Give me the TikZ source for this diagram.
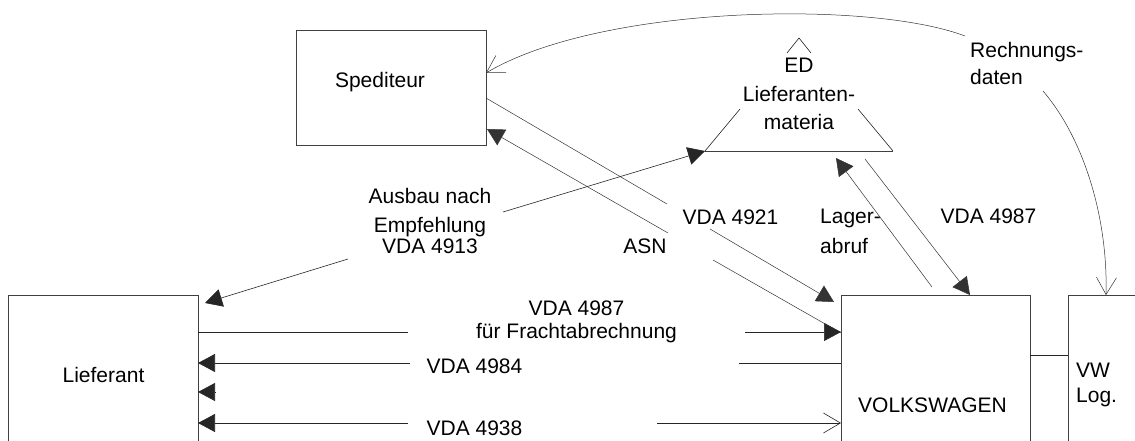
\documentclass[tikz,border=0pt]{standalone}
\usepackage{fontspec}
\setmainfont{Liberation Sans}
\usetikzlibrary{arrows.meta}
\begin{document}
\begin{tikzpicture}[x=1pt,y=-1pt,
  box/.style={draw=black!75, line width=0.8pt, inner sep=0pt},
  txt/.style={inner sep=0pt, font=\fontsize{21}{24}\selectfont},
  conn/.style={line width=0.6pt, draw=black!85},
  thin/.style={line width=0.5pt, draw=black!80},
  fa/.style={-{Triangle[length=17pt,width=18pt]}},
  oa/.style={-{Straight Barb[length=17pt,width=20pt]}},
]
\useasboundingbox (0,0) rectangle (1135,441);
\clip (0,0) rectangle (1135,441);

% boxes
\node[box, minimum width=190pt, minimum height=115pt] (sped) at (391,87.5) {};
\node[txt, anchor=base] (tsped) at (380,88) {Spediteur};
\node[box, minimum width=190pt, minimum height=175pt] (lief) at (103,382.5) {};
\node[txt, anchor=base] (tlief) at (103.5,382) {Lieferant};
\node[box, minimum width=189pt, minimum height=175pt] (vw) at (935.5,382.5) {};
\node[txt, anchor=base] (tvw) at (932.5,412) {VOLKSWAGEN};
\node[box, minimum width=92pt, minimum height=175pt] (vwlog) at (1114,382.5) {};
\node[txt, anchor=base west, align=left, font=\fontsize{21}{25}\selectfont] (tvwlog) at (1076,402) {VW\\Log.};

% triangle (ED Lieferantenmateria)
\coordinate (tl) at (705,151);
\coordinate (tr) at (893,151);
\coordinate (ta) at (799,38);
\coordinate (tla) at (740,109);
\coordinate (tra) at (858,109);
\coordinate (tcl) at (787,53);
\coordinate (tcr) at (811,53);
\draw[box] (tl) -- (tr);
\draw[conn] (tl) -- (tla);
\draw[conn] (tr) -- (tra);
\draw[conn] (tcl) -- (ta) -- (tcr);
\node[txt, anchor=base, align=center, font=\fontsize{21}{28.5}\selectfont] (tmat) at (799,130) {ED\\Lieferanten-\\materia};

% labels
\node[txt, anchor=base west, align=left, font=\fontsize{21}{27}\selectfont] (trech) at (970,85) {Rechnungs-\\daten};
\node[txt, anchor=base, align=center] (taus) at (430,253) {Ausbau nach\\[5pt]Empfehlung\\[-3pt]VDA 4913};
\node[txt, anchor=base] (t4921) at (730.5,224) {VDA 4921};
\node[txt, anchor=base] (tasn) at (645,253) {ASN};
\node[txt, anchor=base west, align=left, font=\fontsize{21}{30}\selectfont] (tlager) at (820,253) {Lager-\\abruf};
\node[txt, anchor=base] (t4987b) at (988.5,223) {VDA 4987};
\node[txt, anchor=base, align=center, font=\fontsize{21}{23}\selectfont] (t4987) at (576.5,338) {VDA 4987\\für Frachtabrechnung};
\node[txt, anchor=base] (t4984) at (474.5,373) {VDA 4984};
\node[txt, anchor=base] (t4938) at (474.5,435) {VDA 4938};

% Spediteur -> VW (VDA 4921)
\coordinate (s1) at (486,98);
\coordinate (s1a) at (667,204);
\coordinate (s1b) at (710,229);
\coordinate (v1) at (834,302);
\draw[thin] (s1) -- (s1a);
\draw[thin,fa] (s1b) -- (v1);

% VW -> Spediteur (ASN)
\coordinate (s2) at (487,129);
\coordinate (s2a) at (668,233);
\coordinate (s2b) at (713,260);
\coordinate (v2) at (841,333);
\draw[thin,fa] (s2a) -- (s2);
\draw[thin] (s2b) -- (v2);

% horizontal connectors
\coordinate (h1) at (198,332);
\coordinate (h1a) at (408,332);
\coordinate (h1b) at (745,332);
\coordinate (h1v) at (841,332);
\draw[conn] (h1) -- (h1a);
\draw[conn,fa] (h1b) -- (h1v);

\coordinate (h2) at (198,363);
\coordinate (h2a) at (410,363);
\coordinate (h2b) at (739,363);
\coordinate (h2v) at (841,363);
\draw[conn,fa] (h2a) -- (h2);
\draw[conn] (h2b) -- (h2v);

\coordinate (h3) at (198,392);
\coordinate (h3a) at (216,392);
\draw[conn,fa] (h3a) -- (h3);

\coordinate (h4) at (198,423);
\coordinate (h4a) at (408,423);
\coordinate (h4b) at (657,423);
\coordinate (h4v) at (841,423);
\draw[conn,fa] (h4a) -- (h4);
\draw[conn,oa] (h4b) -- (h4v);

% Ausbau nach Empfehlung
\coordinate (a1) at (348,259);
\coordinate (a1t) at (205,303);
\coordinate (a2) at (503,212);
\draw[conn,fa] (a1) -- (a1t);
\draw[conn,fa] (a2) -- (tl);

% Lagerabruf and VDA 4987
\coordinate (l1) at (932,287);
\coordinate (l1t) at (836,158);
\draw[thin,fa] (l1) -- (l1t);
\coordinate (d1) at (865,159);
\coordinate (d1t) at (970,295);
\draw[thin,fa] (d1) -- (d1t);

% VW -- VW Log.
\coordinate (k1) at (1030,355);
\coordinate (k2) at (1068,355);
\draw[conn] (k1) -- (k2);

% Rechnungsdaten
\coordinate (r1) at (965,36);
\coordinate (r1t) at (486,73);
\coordinate (r2) at (1043,91);
\coordinate (r2t) at (1106,295);
\draw[thin,oa] (r1) .. controls (870,0) and (600,5) .. (r1t);
\draw[thin,oa] (r2) .. controls (1085,140) and (1108,220) .. (r2t);
\end{tikzpicture}
\end{document}
